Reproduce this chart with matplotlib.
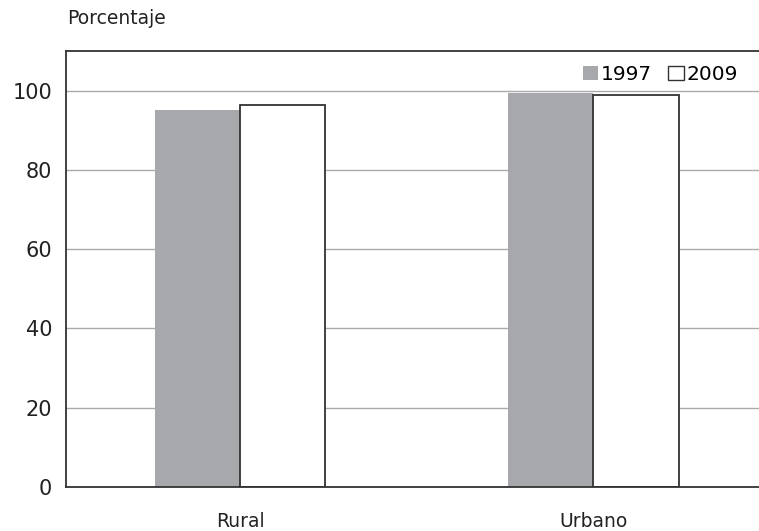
import numpy as np
import matplotlib.pyplot as plt
from matplotlib.patches import Patch

categories = ["Rural", "Urbano"]
years = ["1997", "2009"]
values_1997 = [95.2, 99.5]
values_2009 = [96.5, 99.0]

plt.rcParams['font.family'] = ['DejaVu Sans']

fig = plt.figure(figsize=(7.59, 5.31), dpi=100)
ax = fig.add_axes([66 / 759, 44 / 531, 1 - 66 / 759, (487 - 51) / 531])

x = np.arange(len(categories))
w = 0.242
ax.bar(x - w / 2, values_1997, w, color="#a7a8ab", edgecolor="none", zorder=2)
ax.bar(x + w / 2, values_2009, w, color="white", edgecolor="#333333", linewidth=1.3, zorder=2)

ax.set_ylim(0, 110)
ax.set_xlim(-0.493, 1.47)
ax.set_yticks([0, 20, 40, 60, 80, 100])
ax.set_xticks(x)
ax.set_xticklabels(categories, fontsize=13.5)
ax.tick_params(axis="y", length=0, labelsize=15, pad=10, colors="#222222")
ax.tick_params(axis="x", length=0, pad=18, colors="#222222")
ax.yaxis.grid(True, color="#aaaaaa", linewidth=1)
ax.set_axisbelow(True)

for s in ["left", "top", "bottom"]:
    ax.spines[s].set_color("#333333")
    ax.spines[s].set_linewidth(1.3)
ax.spines["right"].set_visible(False)

fig.text(67 / 759, 1 - 18 / 531, "Porcentaje", fontsize=13.5, va="center", color="#222222")

handles = [Patch(facecolor="#a7a8ab", edgecolor="none"),
           Patch(facecolor="white", edgecolor="#333333")]
ax.legend(handles, years, loc="upper right", bbox_to_anchor=(0.99, 1.0), ncol=2,
          frameon=False, fontsize=14.5, handlelength=0.75, handleheight=0.75,
          handletextpad=0.15, columnspacing=0.8, borderaxespad=0.3)

fig.savefig("out.png", dpi=100)
